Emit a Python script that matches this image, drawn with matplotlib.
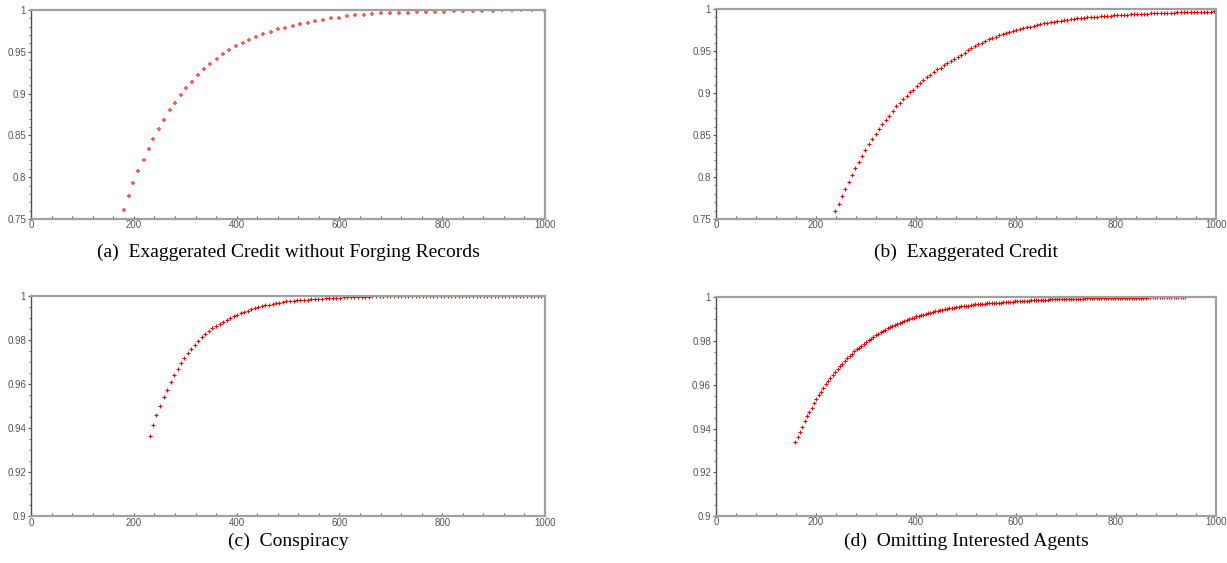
import matplotlib.pyplot as plt
from matplotlib.ticker import MultipleLocator, FormatStrFormatter

plt.rcParams['font.family'] = ['Liberation Sans', 'DejaVu Sans']

# (a) Exaggerated Credit without Forging Records
a_x = [181, 190, 199, 209, 219, 229, 238, 248, 258, 270, 280, 291, 302, 314, 325,
       337, 349, 361, 373, 386, 399, 412, 425, 438, 452, 466, 481, 494, 509, 523,
       538, 553, 568, 584, 599, 615, 630, 647, 663, 681, 698, 715, 733, 750, 768,
       785, 803, 822, 841, 859, 878, 898, 917, 935, 954, 974, 998]
a_y = [0.761, 0.777, 0.793, 0.807, 0.821, 0.834, 0.846, 0.858, 0.869, 0.880, 0.889,
       0.898, 0.907, 0.914, 0.922, 0.929, 0.935, 0.941, 0.947, 0.952, 0.957, 0.961,
       0.964, 0.968, 0.971, 0.974, 0.977, 0.979, 0.981, 0.983, 0.985, 0.987, 0.988,
       0.990, 0.991, 0.993, 0.994, 0.994, 0.995, 0.996, 0.996, 0.997, 0.997, 0.998,
       0.998, 0.998, 0.998, 0.999, 0.999, 0.999, 0.999, 0.999, 1.0, 1.0, 1.0, 1.0, 1.0]

# (b) Exaggerated Credit
b_x = [239, 246, 253, 259, 266, 272, 279, 286, 293, 299, 307, 313, 320, 327, 333,
       341, 347, 355, 361, 368, 375, 382, 389, 395, 402, 409, 415, 422, 429, 436,
       443, 450, 457, 463, 470, 477, 484, 491, 498, 504, 511, 518, 525, 532, 539,
       546, 553, 560, 567, 574, 581, 587, 595, 601, 609, 615, 622, 629, 636, 643,
       649, 657, 663, 670, 677, 683, 690, 697, 703, 710, 716, 723, 730, 736, 743,
       750, 756, 763, 770, 776, 783, 790, 796, 803, 810, 816, 823, 830, 836, 843,
       850, 856, 863, 870, 876, 883, 890, 896, 903, 910, 916, 923, 930, 936, 943,
       950, 956, 963, 970, 976, 983, 990, 996]
b_y = [0.759, 0.768, 0.777, 0.786, 0.794, 0.802, 0.811, 0.818, 0.825, 0.832, 0.839,
       0.845, 0.851, 0.857, 0.863, 0.868, 0.873, 0.879, 0.884, 0.888, 0.893, 0.897,
       0.901, 0.904, 0.908, 0.912, 0.915, 0.919, 0.922, 0.925, 0.928, 0.930, 0.933,
       0.936, 0.938, 0.941, 0.943, 0.945, 0.948, 0.951, 0.954, 0.956, 0.958, 0.960,
       0.962, 0.964, 0.965, 0.967, 0.969, 0.970, 0.971, 0.973, 0.974, 0.975, 0.976,
       0.977, 0.978, 0.979, 0.980, 0.981, 0.982, 0.983, 0.983, 0.984, 0.985, 0.986,
       0.986, 0.987, 0.9875, 0.988, 0.9884, 0.9888, 0.9892, 0.9896, 0.990, 0.9903,
       0.9907, 0.991, 0.9913, 0.9916, 0.9919, 0.9921, 0.9924, 0.9926, 0.9929, 0.9931,
       0.9933, 0.9936, 0.9938, 0.994, 0.9942, 0.9943, 0.9945, 0.9947, 0.9949, 0.995,
       0.9952, 0.9953, 0.9955, 0.9956, 0.9958, 0.9959, 0.996, 0.9962, 0.9963, 0.9964,
       0.9965, 0.9966, 0.9967, 0.9968, 0.9969, 0.997, 0.9971]

# (c) Conspiracy
c_x = [232, 237, 244, 251, 258, 264, 272, 278, 286, 291, 298, 305, 312, 319, 325,
       332, 339, 346, 353, 360, 367, 373, 381, 387, 394, 401, 408, 414, 422, 428,
       435, 442, 449, 455, 462, 470, 476, 483, 490, 497, 503, 511, 517, 524, 531,
       538, 545, 552, 559, 566, 573, 580, 587, 594, 601, 608, 615, 622, 629, 636,
       643, 650, 657, 664, 671, 678, 685, 692, 699, 706, 713, 720, 727, 734, 741,
       748, 755, 762, 769, 776, 783, 790, 797, 804, 811, 818, 825, 832, 839, 846,
       853, 860, 867, 874, 881, 888, 895, 902, 909, 916, 923, 930, 937, 944, 951,
       958, 965, 972, 979, 986, 993, 1000]
c_y = [0.9366, 0.9416, 0.946, 0.9502, 0.9542, 0.9576, 0.9611, 0.9641, 0.967, 0.9694,
       0.972, 0.974, 0.9761, 0.9779, 0.9796, 0.9812, 0.9828, 0.984, 0.9853, 0.9864,
       0.9874, 0.9883, 0.9893, 0.990, 0.9908, 0.9915, 0.9921, 0.9927, 0.9933, 0.9939,
       0.9944, 0.9949, 0.9953, 0.9958, 0.9961, 0.9964, 0.9967, 0.997, 0.9973, 0.9976,
       0.9977, 0.9979, 0.998, 0.998, 0.9982, 0.9984, 0.9985, 0.9986, 0.9987, 0.9988,
       0.999, 0.999, 0.9991, 0.9992, 0.9993, 0.9994, 0.9995, 0.9995, 0.9996, 0.9996,
       0.9997, 0.9997, 0.9997, 0.9998, 0.9998, 0.9998, 0.9999, 0.9999, 0.9999, 0.9999,
       0.9999, 1.0, 1.0, 1.0, 1.0, 1.0, 1.0, 1.0, 1.0, 1.0, 1.0, 1.0, 1.0, 1.0, 1.0,
       1.0, 1.0, 1.0, 1.0, 1.0, 1.0, 1.0, 1.0, 1.0, 1.0, 1.0, 1.0, 1.0, 1.0, 1.0, 1.0,
       1.0, 1.0, 1.0, 1.0, 1.0, 1.0, 1.0, 1.0, 1.0, 1.0, 1.0]

# (d) Omitting Interested Agents
d_x = [159, 165, 169, 173, 178, 183, 187, 192, 197, 201, 206, 211, 215, 220, 225,
       229, 234, 239, 244, 249, 253, 258, 263, 268, 273, 277, 282, 287, 291, 297,
       301, 306, 311, 315, 320, 325, 330, 335, 339, 344, 349, 353, 358, 363, 368,
       373, 377, 382, 387, 392, 397, 401, 406, 411, 415, 420, 425, 429, 435, 439,
       444, 449, 453, 458, 463, 467, 472, 477, 481, 487, 491, 496, 501, 505, 510,
       515, 519, 524, 529, 533, 538, 543, 547, 552, 557, 561, 566, 571, 575, 580,
       585, 589, 594, 599, 603, 608, 613, 617, 622, 627, 631, 636, 641, 645, 650,
       655, 659, 664, 669, 673, 678, 683, 687, 692, 697, 701, 706, 711, 715, 720,
       725, 729, 734, 739, 743, 748, 753, 757, 762, 767, 771, 776, 781, 785, 790,
       795, 799, 804, 809, 813, 818, 823, 827, 832, 837, 841, 846, 851, 855, 860,
       865, 869, 874, 879, 883, 888, 893, 897, 902, 907, 911, 916, 921, 925, 930,
       935, 939]
d_y = [0.9337, 0.9362, 0.9386, 0.9409, 0.9433, 0.9456, 0.9475, 0.9496, 0.9517, 0.9536,
       0.9554, 0.9569, 0.9588, 0.9603, 0.9618, 0.963, 0.9646, 0.9659, 0.9672, 0.9685,
       0.9696, 0.9708, 0.9721, 0.9731, 0.9742, 0.9753, 0.9762, 0.9771, 0.978, 0.9788,
       0.9797, 0.9805, 0.9812, 0.982, 0.9827, 0.9834, 0.9841, 0.9847, 0.9853, 0.9859,
       0.9864, 0.987, 0.9875, 0.9879, 0.9884, 0.9889, 0.9893, 0.9898, 0.9901, 0.9905,
       0.9908, 0.9913, 0.9916, 0.9919, 0.9922, 0.9925, 0.9928, 0.9931, 0.9934, 0.9936,
       0.9939, 0.9942, 0.9944, 0.9947, 0.9948, 0.995, 0.9953, 0.9954, 0.9956, 0.9957,
       0.9959, 0.996, 0.9962, 0.9963, 0.9965, 0.9966, 0.9968, 0.9969, 0.997, 0.9971,
       0.9972, 0.9973, 0.9973, 0.9974, 0.9975, 0.9976, 0.9977, 0.9977, 0.9978, 0.9979,
       0.998, 0.998, 0.9981, 0.9982, 0.9983, 0.9983, 0.9984, 0.9985, 0.9985, 0.9986,
       0.9987, 0.9987, 0.9988, 0.9988, 0.9989, 0.9989, 0.999, 0.999, 0.9991, 0.9991,
       0.9992, 0.9992, 0.9992, 0.9993, 0.9993, 0.9993, 0.9994, 0.9994, 0.9994, 0.9995,
       0.9995, 0.9995, 0.9995, 0.9996, 0.9996, 0.9996, 0.9996, 0.9997, 0.9997, 0.9997,
       0.9997, 0.9997, 0.9998, 0.9998, 0.9998, 0.9998, 0.9998, 0.9998, 0.9998, 0.9999,
       0.9999, 0.9999, 0.9999, 0.9999, 0.9999, 0.9999, 0.9999, 0.9999, 0.9999, 0.9999,
       1.0, 1.0, 1.0, 1.0, 1.0, 1.0, 1.0, 1.0, 1.0, 1.0, 1.0, 1.0, 1.0, 1.0, 1.0,
       1.0, 1.0]

captions = ['(a)  Exaggerated Credit without Forging Records',
            '(b)  Exaggerated Credit',
            '(c)  Conspiracy',
            '(d)  Omitting Interested Agents']

fig = plt.figure(figsize=(12.27, 5.63), dpi=100)

# axes boxes in figure fractions: left, bottom, width, height
boxes = [[0.0253, 0.611, 0.4189, 0.3712],
         [0.5835, 0.611, 0.4075, 0.3730],
         [0.0253, 0.0826, 0.4189, 0.3916],
         [0.5835, 0.0835, 0.4075, 0.3881]]
series = [(a_x, a_y), (b_x, b_y), (c_x, c_y), (d_x, d_y)]
ylims = [(0.75, 1.0), (0.75, 1.0), (0.9, 1.0), (0.9, 1.0)]
ysteps = [(0.05, 0.01), (0.05, 0.01), (0.02, 0.005), (0.02, 0.005)]
cap_y = [0.551, 0.551, 0.039, 0.039]

for i in range(4):
    ax = fig.add_axes(boxes[i])
    xs, ys = series[i]
    if i == 0:
        ax.plot(xs, ys, linestyle='none', marker='+', markersize=3.2,
                markeredgewidth=1.3, color='#ff3030', alpha=0.8)
    else:
        ax.plot(xs, ys, linestyle='none', marker='+', markersize=3.3,
                markeredgewidth=0.8, color='red')
    ax.set_xlim(0, 1000)
    ax.set_ylim(*ylims[i])
    ax.xaxis.set_major_locator(MultipleLocator(200))
    ax.xaxis.set_minor_locator(MultipleLocator(40))
    ax.yaxis.set_major_locator(MultipleLocator(ysteps[i][0]))
    ax.yaxis.set_minor_locator(MultipleLocator(ysteps[i][1]))
    ax.xaxis.set_major_formatter(FormatStrFormatter('%g'))
    ax.yaxis.set_major_formatter(FormatStrFormatter('%g'))
    ax.tick_params(axis='x', which='both', direction='in', length=2, width=0.8,
                   colors='#555555', labelsize=7, pad=1)
    ax.tick_params(axis='y', which='major', direction='out', length=2.5, width=0.8,
                   colors='#555555', labelsize=7, pad=1)
    ax.tick_params(axis='y', which='minor', direction='out', length=1.5, width=0.6,
                   colors='#555555')
    for s in ['top', 'right', 'bottom']:
        ax.spines[s].set_color('#a0a0a0')
        ax.spines[s].set_linewidth(1.6)
    ax.spines['left'].set_color('#505050')
    ax.spines['left'].set_linewidth(1.0)
    cx = boxes[i][0] + boxes[i][2] / 2
    fig.text(cx, cap_y[i], captions[i], ha='center', va='center',
             family='Liberation Serif', fontsize=14)

plt.savefig('out.png', dpi=100)
